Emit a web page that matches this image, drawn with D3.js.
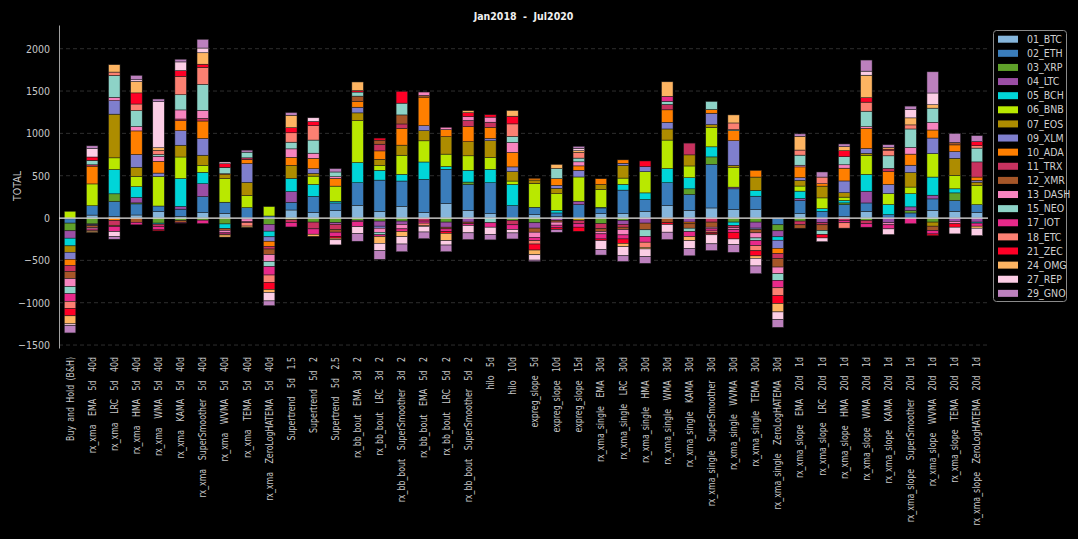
<!DOCTYPE html>
<html><head><meta charset="utf-8">
<script src="https://cdn.jsdelivr.net/npm/d3@7"></script>
<style>
html,body{margin:0;padding:0;background:#000;}
svg{display:block;}
text{font-family:"Liberation Sans Narrow","DejaVu Sans Condensed","Liberation Sans",sans-serif;}
</style></head>
<body><svg id="chart" width="1078" height="539"></svg>
<script>
const categories = [
"Buy and Hold (B&H)",
"rx_xma  EMA  5d  40d","rx_xma  LRC  5d  40d","rx_xma  HMA  5d  40d","rx_xma  WMA  5d  40d","rx_xma  KAMA  5d  40d","rx_xma  SuperSmoother  5d  40d","rx_xma  WVMA  5d  40d","rx_xma  TEMA  5d  40d","rx_xma  ZeroLogHATEMA  5d  40d",
"Supertrend  5d  1.5","Supertrend  5d  2","Supertrend  5d  2.5",
"rx_bb_bout  EMA  3d  2","rx_bb_bout  LRC  3d  2","rx_bb_bout  SuperSmoother  3d  2","rx_bb_bout  EMA  5d  2","rx_bb_bout  LRC  5d  2","rx_bb_bout  SuperSmoother  5d  2",
"hilo  5d","hilo  10d","expreg_slope  5d","expreg_slope  10d","expreg_slope  15d",
"rx_xma_single  EMA  30d","rx_xma_single  LRC  30d","rx_xma_single  HMA  30d","rx_xma_single  WMA  30d","rx_xma_single  KAMA  30d","rx_xma_single  SuperSmoother  30d","rx_xma_single  WVMA  30d","rx_xma_single  TEMA  30d","rx_xma_single  ZeroLogHATEMA  30d",
"rx_xma_slope  EMA  20d  1d","rx_xma_slope  LRC  20d  1d","rx_xma_slope  HMA  20d  1d","rx_xma_slope  WMA  20d  1d","rx_xma_slope  KAMA  20d  1d","rx_xma_slope  SuperSmoother  20d  1d","rx_xma_slope  WVMA  20d  1d","rx_xma_slope  TEMA  20d  1d","rx_xma_slope  ZeroLogHATEMA  20d  1d"
];
const seriesNames = ["01_BTC","02_ETH","03_XRP","04_LTC","05_BCH","06_BNB","07_EOS","09_XLM","10_ADA","11_TRX","12_XMR","13_DASH","15_NEO","17_IOT","18_ETC","21_ZEC","24_OMG","27_REP","29_GNO"];
const seriesColors = ["#86b6dc","#3a7dbb","#5fa12a","#9b4ea5","#00d5d8","#b9e800","#ad8c00","#7f7fcd","#ff7f00","#c8325f","#a65628","#f784bf","#8dd3c7","#e7298a","#fb8072","#ff0026","#fdb462","#fccde5","#bc80bd"];

const BTC  = [-10,35,20,36,75,20,64,56,0,-5, 95,67,87,151,79,139,67,171,91,52, 0,40,15,0,52,52,79,147,91,119, 99,99,-5,52,0,20,79,0,0,91, 79,67];
const ETH  = [-50,110,175,131,67,85,190,131,123,24, 91,190,91,266,369,298,389,405,306,365, 147,87,45,159,67,278,139,270,187,516, 246,159,-75,155,79,139,99,40,60,135, 127,91];
const XRP  = [-91,-70,91,12,-60,-30,-25,-70,0,-70, 0,-48,-55,-28,-36,-36,0,-48,28,0, -28,-56,0,0,-67,-28,0,0,67,87, -48,-48,-71,-36,0,20,-28,0,28,-48, 91,0];
const LTC  = [-87,-10,0,64,0,32,151,0,-10,-80, 127,0,-20,0,-60,-40,0,-60,-48,0, 0,-63,-28,40,0,-48,-60,0,-48,0, 20,-71,-71,24,-56,0,139,-56,44,44, -40,-48];
const BCH  = [-91,0,286,127,-12,330,135,-55,0,-67, 155,139,20,238,115,79,206,32,139,159, 250,0,32,0,8,67,79,167,131,119, -40,67,-40,87,32,28,198,119,155,214, 48,-12];
const BNB  = [80,258,139,123,349,254,83,278,143,111, -20,99,179,496,60,226,250,147,171,139, 40,282,195,286,210,75,250,337,139,230, 230,0,0,60,127,40,226,131,79,278, 159,226];
const EOS  = [-75,0,516,107,0,139,119,48,155,0, 155,32,0,91,71,119,119,206,167,198, 111,40,64,-28,60,151,0,131,131,32, 28,159,0,67,139,52,24,0,171,-48, 202,40];
const XLM  = [-83,-10,159,151,40,171,198,0,222,-52, 0,56,0,67,-24,0,60,0,0,28, 56,0,36,79,0,24,60,79,0,135, 290,-16,-95,32,0,139,56,107,87,183, 79,20];
const ADA  = [-71,210,-30,278,139,119,206,10,48,-60, 95,123,91,67,99,198,337,83,179,131, 171,20,79,52,67,40,0,147,-20,44, 119,79,-63,127,28,151,238,151,131,95, 79,40];
const TRX  = [-75,16,-55,0,-28,20,32,0,20,-32, -35,-80,-60,0,79,52,-36,0,71,60, -52,0,0,-40,-60,-32,0,64,139,-48, -28,0,-60,-44,-24,-28,-40,40,0,0, 0,179];
const XMR  = [-83,-25,-15,-50,0,-20,0,-20,0,-67, 0,0,-32,64,48,107,20,-20,-20,0, 0,-48,-20,0,-32,-28,-79,-56,-52,-60, 0,-40,-99,-40,-67,0,0,0,0,-52, 28,0];
const DASH = [-95,-15,40,52,60,107,95,-30,-35,-80, 99,60,20,-15,-48,-52,40,28,48,60, 119,-60,-36,48,-28,-63,0,0,0,-20, -20,-60,-79,20,0,40,20,-24,79,91, -28,0];
const NEO  = [-83,52,258,187,20,179,306,75,67,-60, 79,155,56,48,-30,139,0,0,0,-56, 71,0,119,44,0,0,-79,36,-40,95, 12,-32,-79,119,-48,95,183,147,218,167, 0,163];
const IOT  = [-91,-15,-60,-30,-40,-10,-40,-15,-10,-100, -50,-63,-50,-60,-20,-32,-24,-32,-20,-52, -56,-40,-32,-40,-60,-48,-67,60,-60,-25, -32,-60,-87,0,0,-28,-40,-48,-67,-40, 0,-36];
const ETC  = [-83,-10,40,79,48,218,202,-10,-40,-87, 111,171,0,0,0,0,-28,0,0,0, 147,-40,0,67,0,0,-60,0,0,-20, 79,-60,-91,60,79,-63,107,67,48,0, 0,28];
const ZEC  = [-87,40,0,131,-12,67,36,44,0,-83, 60,48,-20,16,24,139,0,-20,44,28, 91,-71,-20,-48,-20,-52,67,-20,0,-15, -79,-60,-95,0,-40,71,52,12,0,-20, -40,48];
const OMG  = [-95,-15,87,135,32,0,135,-25,-15,-36, 147,-25,-20,103,-80,-60,-10,-87,24,0, 67,-56,48,20,0,-40,-20,171,-48,-10, 95,-28,-99,163,0,48,266,20,83,40, 0,-24];
const REP  = [-20,100,-60,20,544,103,56,20,0,-100, 0,44,-60,-80,-87,-87,-67,-52,-87,-87, -40,-63,0,28,-107,-107,-91,-91,-91,-107, -67,-91,-91,0,-44,0,48,-67,99,139, -79,-87];
const GNO  = [-87,32,-30,52,32,32,103,0,24,-56, 32,0,40,-91,-103,-91,-79,-79,-79,-63, -71,-16,-32,24,-63,-67,-79,-87,-87,-79, -91,-91,-91,28,60,32,131,32,40,250, 107,71];

const yTicks = [-1500,-1000,-500,0,500,1000,1500,2000];
const titleText = "Jan2018  -  Jul2020";
const yLabel = "TOTAL";

const seriesValues = [BTC,ETH,XRP,LTC,BCH,BNB,EOS,XLM,ADA,TRX,XMR,DASH,NEO,IOT,ETC,ZEC,OMG,REP,GNO];
const rows = categories.map((c,i)=>{
  const r = {cat:c};
  seriesNames.forEach((s,j)=>{ r[s] = seriesValues[j][i]; });
  return r;
});

const svg = d3.select("#chart");
svg.append("rect").attr("width",1078).attr("height",539).attr("fill","#000");

const pLeft = 59, pRight = 988, pTop = 25, pBottom = 348;
const x = d3.scaleBand().domain(categories).range([pLeft,pRight]).paddingInner(0.48).paddingOuter(0.24);
const y = d3.scaleLinear().domain([-1535,2280]).range([pBottom,pTop]);

// grid
svg.append("g").selectAll("line").data(yTicks.filter(d=>d!==0)).join("line")
  .attr("x1",pLeft).attr("x2",pRight).attr("y1",d=>y(d)).attr("y2",d=>y(d))
  .attr("stroke","#3a3a3a").attr("stroke-width",0.8).attr("stroke-dasharray","4,3");

// y axis
const yAxis = d3.axisLeft(y).tickValues(yTicks).tickSize(0).tickPadding(9).tickFormat(d3.format("d"));
const ya = svg.append("g").attr("transform",`translate(${pLeft},0)`).call(yAxis);
ya.select(".domain").attr("stroke","#a0a0a0").attr("stroke-width",1);
ya.selectAll("text").attr("fill","#c8c8c8").attr("font-size",10.5)
  .text(d=>d<0? "\u2212"+Math.abs(d): d);

// stacks
const stack = d3.stack().keys(seriesNames).offset(d3.stackOffsetDiverging);
const layers = stack(rows);
svg.append("g").selectAll("g").data(layers).join("g")
  .attr("fill",(d,i)=>seriesColors[i])
  .selectAll("rect").data(d=>d.filter(p=>p[1]!==p[0])).join("rect")
  .attr("x",d=>x(d.data.cat)).attr("width",x.bandwidth())
  .attr("y",d=>y(d[1])).attr("height",d=>Math.max(0,y(d[0])-y(d[1])))
  .attr("stroke","#1c1c1c").attr("stroke-width",0.5);

// zero line
svg.append("line").attr("x1",pLeft).attr("x2",pRight).attr("y1",y(0)).attr("y2",y(0))
  .attr("stroke","#e8e8e8").attr("stroke-width",1.2);

// x labels
const xa = svg.append("g").attr("transform",`translate(0,${pBottom})`)
  .call(d3.axisBottom(x).tickSize(0).tickPadding(0));
xa.select(".domain").remove();
xa.selectAll("text")
  .attr("fill","#c8c8c8").attr("font-size",10)
  .style("white-space","pre").style("word-spacing","2px")
  .attr("transform","translate(0,9) rotate(-90) scale(0.875,1)")
  .attr("text-anchor","end").attr("x",0).attr("y",0).attr("dy","0.35em");

// title
svg.append("text").attr("x",(pLeft+pRight)/2).attr("y",20).attr("text-anchor","middle")
  .attr("fill","#f0f0f0").attr("font-size",10.5).attr("font-weight","bold")
  .style("white-space","pre").text(titleText);

// y label
svg.append("text").attr("transform",`translate(21,186) rotate(-90)`).attr("text-anchor","middle")
  .attr("fill","#c8c8c8").attr("font-size",10.5).text(yLabel);

// legend
const lg = svg.append("g");
lg.append("rect").attr("x",993.5).attr("y",30.5).attr("width",73).attr("height",271).attr("rx",3)
  .attr("fill","#000").attr("stroke","#8a8a8a").attr("stroke-width",1);
const li = lg.selectAll("g.it").data(seriesNames).join("g").attr("class","it")
  .attr("transform",(d,i)=>`translate(0,${39.2+i*14.12})`);
li.append("rect").attr("x",998).attr("y",-3.5).attr("width",20).attr("height",7)
  .attr("fill",(d,i)=>seriesColors[i]);
li.append("text").attr("x",1027).attr("y",0).attr("dy","0.35em").attr("fill","#d0d0d0")
  .attr("font-size",10.5).text(d=>d);
</script></body></html>
